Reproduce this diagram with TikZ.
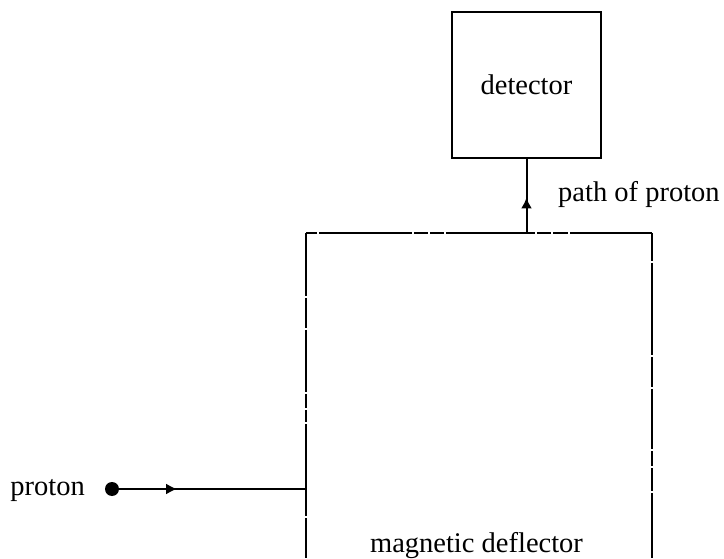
\documentclass[tikz,border=0pt]{standalone}
\usepackage{fontspec}
\setmainfont{Liberation Serif}
\usetikzlibrary{positioning, arrows.meta, decorations.markings}

\begin{document}
\begin{tikzpicture}[
    x=1pt, y=1pt,
    wire/.style={draw=black, line width=2pt},
    box/.style={rectangle, draw=black, line width=2pt, minimum width=149pt, minimum height=146pt, align=center, font=\fontsize{28.5}{34}\selectfont},
    txt/.style={inner sep=0pt, font=\fontsize{28.5}{34}\selectfont},
    dot/.style={circle, fill=black, inner sep=0pt, minimum size=14pt},
    midarrow/.style={postaction={decorate}, decoration={markings, mark=at position #1 with {\arrow{Latex[length=11pt,width=11pt]}}}}
]
\useasboundingbox (0,0) rectangle (724,558);

% Detector
\node[box] (det) at (526.5,473) {detector};
\node[txt, anchor=base west] (pathlbl) at (558,356) {path of proton};

% Deflector region (open at the bottom)
\coordinate (tl) at (306,325);
\coordinate (tr) at (652,325);
\coordinate (bl) at (306,0);
\coordinate (br) at (652,0);
\node[txt, anchor=base] (magdef) at (476.5,6) {magnetic deflector};

\draw[wire, dash pattern=on 11pt off 2pt on 93pt off 2pt on 14pt off 2pt on 14pt off 2pt on 89pt off 2pt on 14pt off 2pt on 15pt off 2pt on 90pt off 2pt] (tl) -- (tr);
\draw[wire, dash pattern=on 63pt off 2pt on 30pt off 2pt on 62pt off 2pt on 14pt off 2pt on 12pt off 2pt on 92pt off 2pt on 60pt off 2pt] (tl) -- (bl);
\draw[wire, dash pattern=on 28pt off 2pt on 92pt off 2pt on 30pt off 2pt on 60pt off 2pt on 15pt off 2pt on 23pt off 2pt on 90pt off 2pt] (tr) -- (br);

% Proton coming in
\node[dot] (src) at (112,69) {};
\node[txt, anchor=base east] (protonlbl) at (85,63) {proton};
\coordinate (entry) at (tl |- src);
\coordinate (exit) at (det.south |- tl);

% Connections
\draw[wire, midarrow=0.31] (src) -- (entry);
\draw[wire, midarrow=0.48] (exit) -- (det.south);

\end{tikzpicture}
\end{document}
